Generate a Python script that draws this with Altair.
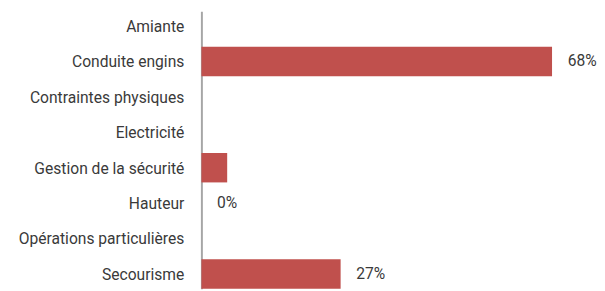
import altair as alt
import pandas as pd

categories = ["Amiante", "Conduite engins", "Contraintes physiques", "Electricité",
              "Gestion de la sécurité", "Hauteur", "Opérations particulières", "Secourisme"]
values = [0, 68, 0, 0, 5, 0, 0, 27]
labels = ["", "68%", "", "", "", "0%", "", "27%"]

df = pd.DataFrame({"cat": categories, "val": values, "lab": labels})

y = alt.Y("cat:N", sort=categories, title=None,
          scale=alt.Scale(paddingInner=0.17, paddingOuter=0),
          axis=alt.Axis(domainColor="#a6a6a6", domainWidth=2, ticks=False,
                        labelPadding=18, labelFontSize=16, labelColor="#3a3a3a",
                        labelFont="Roboto", labelOffset=1, minExtent=198, maxExtent=198))
x = alt.X("val:Q", axis=None, scale=alt.Scale(domain=[0, 73.5]))

bars = alt.Chart(df).mark_bar(color="#c0504d").encode(x=x, y=y)
text = alt.Chart(df).mark_text(align="left", baseline="middle", dx=16, fontSize=16,
                               font="Roboto", color="#3a3a3a").encode(x=x, y=y, text="lab:N")

chart = (bars + text).properties(width=388, height=284, padding=0).configure_view(stroke=None)
chart.save("out.html", embed_options={"renderer": "svg", "actions": False})
